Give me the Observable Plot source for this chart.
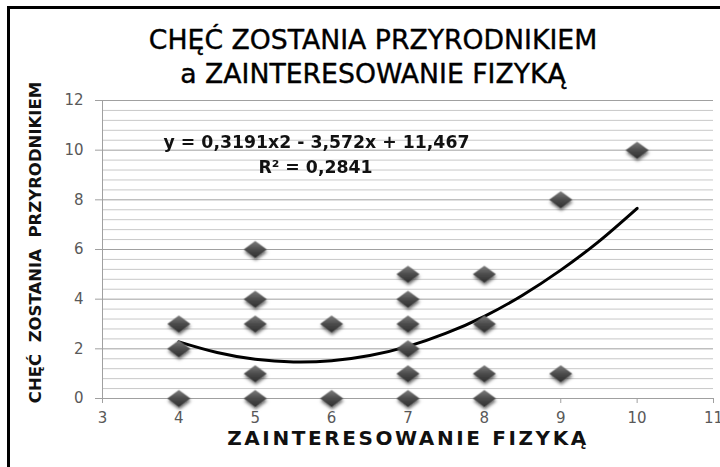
<!DOCTYPE html>
<html><head><meta charset="utf-8">
<script src="https://cdn.jsdelivr.net/npm/d3@7"></script>
<script src="https://cdn.jsdelivr.net/npm/@observablehq/plot@0.6"></script>
<style>body{margin:0;background:#fff}svg{display:block}</style>
</head><body><div id="chart"></div>
<script>
const titleLines = ["CHĘĆ ZOSTANIA PRZYRODNIKIEM", "a ZAINTERESOWANIE FIZYKĄ"];
const xLabel = "ZAINTERESOWANIE FIZYKĄ";
const yLabel = "CHĘĆ\u00a0 ZOSTANIA\u00a0 PRZYRODNIKIEM";
const equation = ["y = 0,3191x2 - 3,572x + 11,467", "R² = 0,2841"];
const xTicks = [3, 4, 5, 6, 7, 8, 9, 10, 11];
const yTicks = [0, 2, 4, 6, 8, 10, 12];
const pointX = [4, 4, 4, 5, 5, 5, 5, 5, 6, 6, 7, 7, 7, 7, 7, 7, 8, 8, 8, 8, 9, 9, 10];
const pointY = [3, 2, 0, 6, 4, 3, 1, 0, 3, 0, 5, 4, 3, 2, 1, 0, 5, 3, 1, 0, 8, 1, 10];
const trendX = [4, 4.5, 5, 5.5, 6, 6.5, 7, 7.5, 8, 8.5, 9, 9.5, 10];
const trendY = [2.28, 1.85, 1.58, 1.47, 1.52, 1.73, 2.10, 2.63, 3.31, 4.16, 5.17, 6.33, 7.66];

const points = pointX.map((x, i) => ({x, y: pointY[i]}));
const trend = trendX.map((x, i) => ({x, y: trendY[i]}));
const minorY = d3.range(0, 31).map(i => +(i * 0.4).toFixed(1)).filter(v => Math.abs(v / 2 - Math.round(v / 2)) > 1e-6);

const family = "'DejaVu Sans', 'Open Sans', sans-serif";
const mctx = document.createElement("canvas").getContext("2d");
function fit(text, weight, target) {
  mctx.font = `${weight} 100px ${family}`;
  return Math.round(1000 * target / mctx.measureText(text).width) / 10;
}
const titleSize = Math.min(fit(titleLines[0], "normal", 449), fit(titleLines[1], "normal", 404));
const eqSize = fit(equation[0], "bold", 307);
const xLabSize = 20;
const yLabSize = 16.5;
const tickSize = 15;

const ns = "http://www.w3.org/2000/svg";
const diamond = {draw(ctx) { ctx.moveTo(0, -8.5); ctx.lineTo(11.5, 0); ctx.lineTo(0, 8.5); ctx.lineTo(-11.5, 0); ctx.closePath(); }};

const chart = Plot.plot({
  width: 720, height: 467,
  marginTop: 100, marginBottom: 69, marginLeft: 102, marginRight: 7,
  style: {fontFamily: family, background: "#fff"},
  x: {domain: [3, 11], axis: null},
  y: {domain: [0, 12], axis: null},
  marks: [
    () => { const g = document.createElementNS(ns, "g"); g.innerHTML = `<defs>
      <linearGradient id="dg" x1="0" y1="0" x2="0" y2="1">
        <stop offset="0" stop-color="#7c7c7c"/><stop offset="0.5" stop-color="#4c4c4c"/><stop offset="1" stop-color="#2e2e2e"/>
      </linearGradient>
      <filter id="sh" x="-50%" y="-50%" width="200%" height="200%">
        <feDropShadow dx="0.5" dy="2.5" stdDeviation="1.6" flood-color="#000" flood-opacity="0.55"/>
      </filter></defs>
      <path d="M8.5,467V7.5H720" fill="none" stroke="#000" stroke-width="3"/>`; return g; },
    Plot.gridY(minorY, {stroke: "#c8c8c8", strokeOpacity: 1, strokeWidth: 1}),
    Plot.gridY(yTicks, {stroke: "#a0a0a0", strokeOpacity: 1, strokeWidth: 1}),
    Plot.ruleX([3], {stroke: "#a0a0a0"}),
    Plot.axisY(yTicks, {tickSize: 7, tickPadding: 12, stroke: "#a0a0a0", fill: "#595959", fontSize: tickSize, label: null}),
    Plot.axisX(xTicks, {tickSize: 5, tickPadding: 9, stroke: "#a0a0a0", fill: "#595959", fontSize: tickSize, label: null}),
    Plot.line(trend, {x: "x", y: "y", curve: "natural", stroke: "#000", strokeWidth: 3}),
    Plot.dot(points, {x: "x", y: "y", symbol: diamond, fill: "url(#dg)", stroke: "none"}),
    Plot.text([equation[0]], {frameAnchor: "top-left", dx: 214, dy: 35, textAnchor: "middle", fontSize: eqSize, fontWeight: "bold", fill: "#111"}),
    Plot.text([equation[1]], {frameAnchor: "top-left", dx: 213, dy: 60, textAnchor: "middle", fontSize: eqSize, fontWeight: "bold", fill: "#111"}),
    Plot.text([titleLines[0]], {frameAnchor: "top", dx: -35, dy: -70, fontSize: titleSize, fill: "#000", stroke: "#000", strokeWidth: 0.4}),
    Plot.text([titleLines[1]], {frameAnchor: "top", dx: -35, dy: -36, fontSize: titleSize, fill: "#000", stroke: "#000", strokeWidth: 0.4}),
    Plot.text([xLabel], {frameAnchor: "bottom", dx: 0, dy: 46, fontSize: xLabSize, fontWeight: "bold", fill: "#111"}),
    Plot.text([yLabel], {frameAnchor: "left", textAnchor: "middle", dx: -67, dy: -7, rotate: -90, fontSize: yLabSize, fontWeight: "bold", fill: "#111"})
  ]
});
const dots = chart.querySelector('g[aria-label="dot"]');
if (dots) dots.setAttribute("filter", "url(#sh)");
for (const t of chart.querySelectorAll("text")) {
  if (t.textContent === xLabel) t.style.letterSpacing = "2.6px";
}
document.getElementById("chart").appendChild(chart);
</script></body></html>
